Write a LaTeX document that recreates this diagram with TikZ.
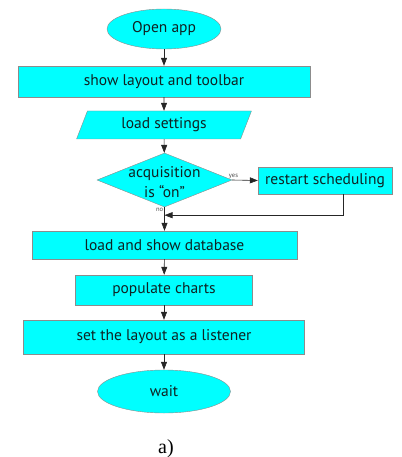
\documentclass[tikz,border=0pt]{standalone}
\usepackage{fontspec}
\setmainfont{PT Sans}
\newfontfamily\capfont{Liberation Serif}
\usetikzlibrary{shapes.geometric,arrows.meta,calc}
\definecolor{boxcyan}{RGB}{0,255,255}
\definecolor{txtdark}{RGB}{15,35,35}
\begin{document}
\begin{tikzpicture}[x=1pt,y=-1pt,
  box/.style={draw=black!45, fill=boxcyan, text=txtdark, inner sep=0pt, font=\fontsize{15.5}{18}\selectfont},
  rbox/.style={box, rectangle},
  term/.style={box, ellipse},
  para/.style={box, trapezium, trapezium left angle=67, trapezium right angle=113, trapezium stretches=true},
  decision/.style={box, diamond},
  arr/.style={draw=black!85, line width=0.6pt, -{Triangle[length=8pt,width=6pt]}},
  small/.style={font=\fontsize{6.5}{7}\selectfont, text=black!70, inner sep=1pt}]
\useasboundingbox (0,0) rectangle (401,457);
\node[term, minimum width=114pt, minimum height=40pt] (open) at (164,29) {Open app};
\node[rbox, minimum width=292pt, minimum height=31pt] (show) at (164,81.5) {show layout and toolbar};
\node[para, minimum width=176pt, minimum height=28pt] (load) at (164,125) {load settings};
\node[decision, minimum width=135pt, minimum height=54pt] (dec) at (164.5,180) {};
\node[align=center, inner sep=0pt, text=txtdark, font=\fontsize{15.5}{20}\selectfont] (dectext) at (164.5,182) {acquisition\\is “on”};
\node[rbox, minimum width=134pt, minimum height=27pt] (restart) at (325,180.5) {restart scheduling};
\node[rbox, minimum width=265pt, minimum height=28pt] (db) at (164.5,245) {load and show database};
\node[rbox, minimum width=177pt, minimum height=30pt] (charts) at (164,290) {populate charts};
\node[rbox, minimum width=281pt, minimum height=34pt] (listen) at (164,337) {set the layout as a listener};
\node[term, minimum width=133pt, minimum height=43pt] (wait) at (164,391.5) {wait};
\node[font=\capfont\fontsize{20}{22}\selectfont] (cap) at (166,449) {a)};
\coordinate (merge) at ($(dec.south)+(0,8)$);
\draw[arr] (open) -- (show);
\draw[arr] (show) -- (load);
\draw[arr] (load) -- (dec);
\draw[arr] (dec.east) -- node[small, above, pos=0.05] (yes) {yes} (restart.west);
\draw[arr] (dec.south) -- node[small, left, pos=0.12] (no) {no} (db.north);
\draw[arr] ([xshift=18pt]restart.south) |- (merge);
\draw[arr] (db) -- (charts);
\draw[arr] (charts) -- (listen);
\draw[arr] (listen) -- (wait);
\end{tikzpicture}
\end{document}
